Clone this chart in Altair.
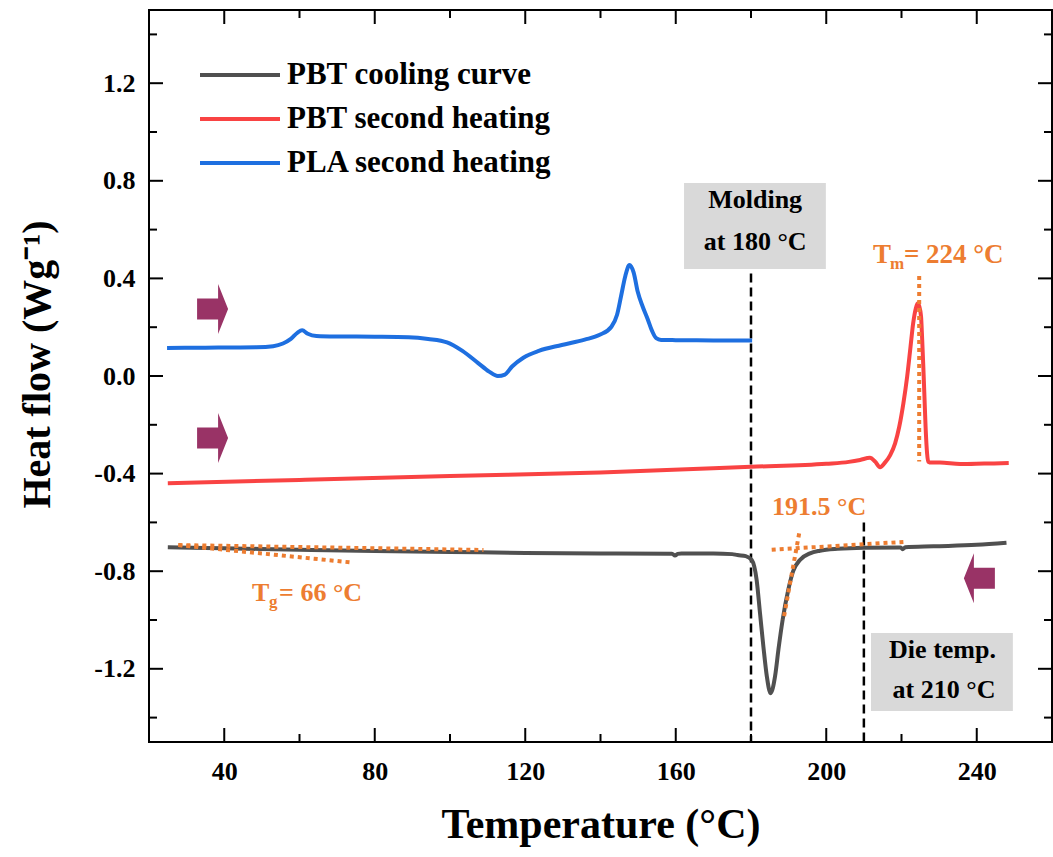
import altair as alt
import pandas as pd

FONT = "Liberation Serif"
PLOT_W, PLOT_H = 903, 732

# ---------------- axes ----------------
X_DOMAIN = [20, 260]
Y_DOMAIN = [-1.5, 1.5]
X_MAJOR = [40, 80, 120, 160, 200, 240]
X_MINOR = [60, 100, 140, 180, 220]
Y_MAJOR = [-1.2, -0.8, -0.4, 0.0, 0.4, 0.8, 1.2]
Y_MINOR = [-1.4, -1.0, -0.6, -0.2, 0.2, 0.6, 1.0, 1.4]

# ---------------- series ----------------
SERIES = ["PBT cooling curve", "PBT second heating", "PLA second heating"]
COLORS = ["#505050", "#F94343", "#1E6FE0"]

cool_T = [25, 40, 60, 80, 100, 120, 140, 159, 159.8, 160.5, 161.5, 170, 175, 176.4, 178.6,
          180.2, 181.5, 182.4, 183.3, 184.2, 185.2, 186.4, 187.3, 188.4, 189.9, 191.2, 193.0,
          195.7, 198.3, 203, 210, 219.8, 220.3, 221, 228.5, 240, 247.9]
cool_V = [-0.702, -0.706, -0.712, -0.717, -0.721, -0.725, -0.727, -0.728, -0.736, -0.729, -0.727,
          -0.727, -0.730, -0.734, -0.738, -0.754, -0.836, -0.973, -1.11, -1.23, -1.30, -1.23,
          -1.12, -1.0, -0.877, -0.80, -0.754, -0.727, -0.716, -0.708, -0.704, -0.703, -0.710,
          -0.702, -0.698, -0.692, -0.683]

heat_T = [25, 60, 100, 140, 180, 200, 206, 209.0, 211.6, 213.0, 214.3, 215.6, 217.0, 218.3,
          219.4, 220.5, 221.5, 222.4, 223.1, 223.8, 224.3, 224.7, 225.2, 225.5, 225.8, 226.1,
          226.4, 226.8, 227.1, 228.0, 230.2, 235.6, 242, 248.5]
heat_V = [-0.440, -0.426, -0.410, -0.395, -0.372, -0.360, -0.352, -0.344, -0.335, -0.351, -0.374,
          -0.355, -0.324, -0.276, -0.208, -0.112, -0.003, 0.120, 0.216, 0.277, 0.298, 0.287,
          0.243, 0.148, 0.038, -0.085, -0.208, -0.317, -0.351, -0.355, -0.355, -0.361, -0.359,
          -0.357]

pla_T = [24.8, 35, 48.5, 53, 55.6, 57.7, 59.5, 60.7, 62.2, 64.5, 70, 80, 89, 94.2, 99.2, 103.3,
         107.4, 110.4, 112.7, 114.6, 116.5, 119.5, 123.6, 129.7, 135.8, 139.8, 142.9, 144.4,
         145.5, 146.6, 147.7, 148.8, 149.9, 151.2, 152.5, 153.7, 154.8, 156.1, 160, 170, 180.3]
pla_V = [0.115, 0.116, 0.118, 0.122, 0.133, 0.152, 0.178, 0.187, 0.173, 0.164, 0.162, 0.161,
         0.159, 0.152, 0.138, 0.103, 0.054, 0.018, 0.0, 0.006, 0.039, 0.075, 0.103, 0.127, 0.149,
         0.169, 0.202, 0.251, 0.33, 0.41, 0.455, 0.425, 0.345, 0.285, 0.235, 0.185, 0.155, 0.148,
         0.147, 0.146, 0.145]

# ---------------- annotations ----------------
dash_T = [180, 210]
dash_V1 = [0.42, -0.60]
dash_V2 = [-1.5, -1.5]

dot_T1 = [27.8, 27.8, 185.5, 192.8, 224.7]
dot_V1 = [-0.693, -0.693, -0.712, -0.645, 0.41]
dot_T2 = [108.9, 74.3, 220.5, 188.6, 224.7]
dot_V2 = [-0.713, -0.765, -0.680, -1.0, -0.35]

box_T1 = [162.2, 211.9]
box_T2 = [199.9, 249.6]
box_V1 = [0.791, -1.053]
box_V2 = [0.4385, -1.373]
box_text = ["Molding", "at 180 °C", "Die temp.", "at 210 °C"]
box_text_T = [181.1, 181.1, 230.9, 231.3]
box_text_V = [0.689, 0.516, -1.157, -1.321]

onset_text = ["191.5 °C"]
onset_T = [198.1]
onset_V = [-0.57]

tm_T, tm_V = [212.4], [0.463]
tg_T, tg_V = [47.4], [-0.921]

arrow_right_T = [36.9, 36.9]
arrow_right_V = [0.275, -0.254]
arrow_left_T = [240.7]
arrow_left_V = [-0.829]

ORANGE = "#ED7D31"
ARROW = "#993366"

xs = alt.Scale(domain=X_DOMAIN, nice=False, zero=False)
ys = alt.Scale(domain=Y_DOMAIN, nice=False, zero=False)
x_axis = alt.Axis(values=X_MAJOR, title="Temperature (°C)", labelPadding=16, titlePadding=20,
                  titleFontSize=42, labelOverlap=False)
y_axis = alt.Axis(values=Y_MAJOR, title="Heat flow (Wg⁻¹)", labelPadding=14, titlePadding=36,
                  titleFontSize=40, titleY=354, labelOverlap=False,
                  labelExpr="datum.value < 0 ? '-' + format(-datum.value, '.1f') : format(datum.value, '.1f')")


def X(field):
    return alt.X(field, scale=xs, axis=x_axis)


def Y(field):
    return alt.Y(field, scale=ys, axis=y_axis)


frames = []
for name, T, V in zip(SERIES, [cool_T, heat_T, pla_T], [cool_V, heat_V, pla_V]):
    frames.append(pd.DataFrame({"T": T, "V": V, "series": name}))
curves = pd.concat(frames, ignore_index=True)

lines = alt.Chart(curves).mark_line(strokeWidth=4, interpolate="monotone").encode(
    x=X("T:Q"), y=Y("V:Q"),
    color=alt.Color("series:N", scale=alt.Scale(domain=SERIES, range=COLORS), legend=None),
)

boxes = alt.Chart(pd.DataFrame({"T1": box_T1, "T2": box_T2, "V1": box_V1, "V2": box_V2})).mark_rect(
    color="#D9D9D9").encode(x=X("T1:Q"), x2="T2:Q", y=Y("V1:Q"), y2="V2:Q")

dashed = alt.Chart(pd.DataFrame({"T": dash_T, "V1": dash_V1, "V2": dash_V2})).mark_rule(
    color="black", strokeWidth=2.5, strokeDash=[9, 5]).encode(
    x=X("T:Q"), y=Y("V1:Q"), y2="V2:Q")

dotted = alt.Chart(pd.DataFrame({"T1": dot_T1, "V1": dot_V1, "T2": dot_T2, "V2": dot_V2})).mark_rule(
    color=ORANGE, strokeWidth=4, strokeDash=[4, 4]).encode(
    x=X("T1:Q"), x2="T2:Q", y=Y("V1:Q"), y2="V2:Q")

RIGHT_ARROW = "M-0.62,-0.42 L0.22,-0.42 L0.22,-1 L0.62,0 L0.22,1 L0.22,0.42 L-0.62,0.42 Z"
LEFT_ARROW = "M0.62,-0.42 L-0.22,-0.42 L-0.22,-1 L-0.62,0 L-0.22,1 L-0.22,0.42 L0.62,0.42 Z"

arrows_r = alt.Chart(pd.DataFrame({"T": arrow_right_T, "V": arrow_right_V})).mark_point(
    shape=RIGHT_ARROW, size=2500, filled=True, color=ARROW, opacity=1, strokeWidth=0).encode(
    x=X("T:Q"), y=Y("V:Q"))
arrows_l = alt.Chart(pd.DataFrame({"T": arrow_left_T, "V": arrow_left_V})).mark_point(
    shape=LEFT_ARROW, size=2500, filled=True, color=ARROW, opacity=1, strokeWidth=0).encode(
    x=X("T:Q"), y=Y("V:Q"))


def text_layer(T, V, labels, size, color, align="left", dx=0, dy=0):
    df = pd.DataFrame({"T": T, "V": V, "label": labels})
    return alt.Chart(df).mark_text(font=FONT, fontWeight="bold", fontSize=size, color=color,
                                   align=align, baseline="alphabetic", dx=dx, dy=dy).encode(
        x=X("T:Q"), y=Y("V:Q"), text="label:N")


box_texts = text_layer(box_text_T, box_text_V, box_text, 26, "black", align="center")
onset = text_layer(onset_T, onset_V, onset_text, 26, ORANGE, align="center")
tm = (text_layer(tm_T, tm_V, ["T"], 27, ORANGE)
      + text_layer(tm_T, tm_V, ["m"], 17, ORANGE, dx=17, dy=6)
      + text_layer(tm_T, tm_V, ["= 224 °C"], 27, ORANGE, dx=31))
tg = (text_layer(tg_T, tg_V, ["T"], 26, ORANGE)
      + text_layer(tg_T, tg_V, ["g"], 17, ORANGE, dx=17, dy=6)
      + text_layer(tg_T, tg_V, ["= 66 °C"], 26, ORANGE, dx=27))

# inward ticks on all four sides
MAJ, MIN = 14, 8


def xticks(vals, length, top):
    df = pd.DataFrame({"v": vals})
    y0 = 0 if top else PLOT_H
    y1 = length if top else PLOT_H - length
    return alt.Chart(df).mark_rule(color="black", strokeWidth=2).encode(
        x=X("v:Q"), y=alt.value(y0), y2=alt.value(y1))


def yticks(vals, length, right):
    df = pd.DataFrame({"v": vals})
    x0 = PLOT_W if right else 0
    x1 = PLOT_W - length if right else length
    return alt.Chart(df).mark_rule(color="black", strokeWidth=2).encode(
        y=Y("v:Q"), x=alt.value(x0), x2=alt.value(x1))


ticks = [xticks(X_MAJOR, MAJ, False), xticks(X_MINOR, MIN, False),
         xticks(X_MAJOR, MAJ, True), xticks(X_MINOR, MIN, True),
         yticks(Y_MAJOR, MAJ, False), yticks(Y_MINOR, MIN, False),
         yticks(Y_MAJOR, MAJ, True), yticks(Y_MINOR, MIN, True)]

# legend (inside plot, upper left)
legend_layers = []
for i, (name, col) in enumerate(zip(SERIES, COLORS)):
    ly = 65 + 44 * i
    ldf = pd.DataFrame({"label": [name]})
    legend_layers.append(alt.Chart(ldf).mark_rule(color=col, strokeWidth=4).encode(
        x=alt.value(51), x2=alt.value(131), y=alt.value(ly)))
    legend_layers.append(alt.Chart(ldf).mark_text(font=FONT, fontWeight="bold", fontSize=31,
                                                  color="black", align="left", baseline="middle").encode(
        x=alt.value(138), y=alt.value(ly), text="label:N"))

chart = alt.layer(boxes, dashed, lines, dotted, arrows_r, arrows_l, box_texts, onset, tm, tg,
                  *ticks, *legend_layers).properties(
    width=PLOT_W, height=PLOT_H,
    autosize=alt.AutoSizeParams(type="none"),
    padding={"left": 149, "top": 10, "right": 1, "bottom": 115},
    background="white",
).configure_view(stroke="black", strokeWidth=2).configure_axis(
    labelFont=FONT, labelFontWeight="bold", labelFontSize=26, labelColor="black",
    titleFont=FONT, titleFontWeight="bold", titleFontSize=38, titleColor="black",
    ticks=False, domain=False, grid=False)

chart.save("out.html", embed_options={"renderer": "svg", "actions": False})
